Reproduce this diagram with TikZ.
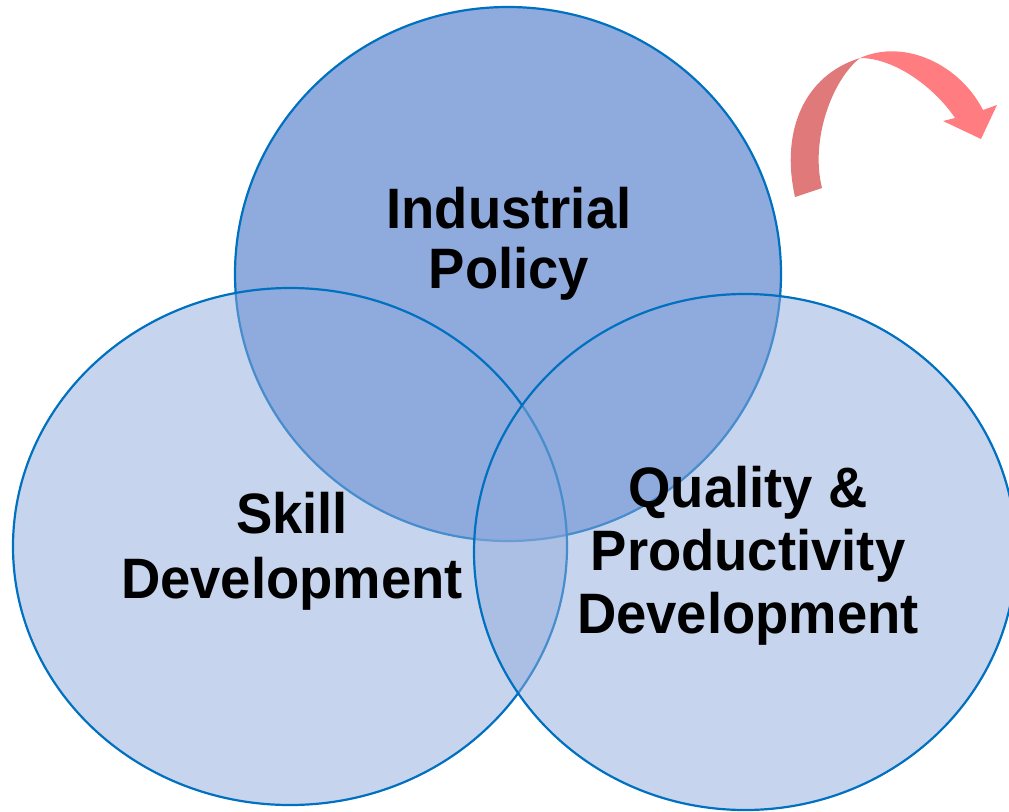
\documentclass[tikz,border=0pt]{standalone}
\usepackage{fontspec}
\setmainfont{Liberation Sans}[FakeStretch=0.955]
\usetikzlibrary{shapes.geometric}
\definecolor{vfill}{HTML}{8FAADC}
\definecolor{vline}{HTML}{0070C0}
\definecolor{arrowdark}{HTML}{E07A7A}
\definecolor{arrowlight}{HTML}{FF7C80}
\begin{document}
\begin{tikzpicture}[x=1pt,y=-1pt,
  venn/.style={ellipse, draw=vline, line width=2.2pt, inner sep=0pt, outer sep=0pt},
  vennlabel/.style={align=center, text=black, inner sep=0pt}]
\useasboundingbox (0,0) rectangle (1009,811);
\node[venn, fill=vfill, minimum width=546pt, minimum height=534pt] (top) at (508,274) {};
\node[venn, fill=vfill, fill opacity=0.5, minimum width=554pt, minimum height=517pt] (left) at (290,546.5) {};
\node[venn, fill=vfill, fill opacity=0.5, minimum width=542pt, minimum height=516pt] (right) at (745,552) {};
% curved arrow
\fill[arrowdark] (795,197) .. controls (780,130) and (805,75) .. (860,58)
  .. controls (832,80) and (810,140) .. (822,188) -- cycle;
\fill[arrowlight] (860,58) .. controls (905,38) and (960,65) .. (983,110)
  -- (997,105) -- (981,139) -- (943,121) -- (955,118)
  .. controls (935,88) and (895,58) .. (860,58) -- cycle;
% labels
\node[vennlabel, font=\fontsize{57}{60}\selectfont\bfseries] (ip) at (509,243.5) {Industrial\\Policy};
\node[vennlabel, font=\fontsize{57}{65}\selectfont\bfseries] (sd) at (292,551) {Skill\\Development};
\node[vennlabel, font=\fontsize{57}{63}\selectfont\bfseries] (qp) at (748,555.5) {Quality \&\\Productivity\\Development};
\end{tikzpicture}
\end{document}
